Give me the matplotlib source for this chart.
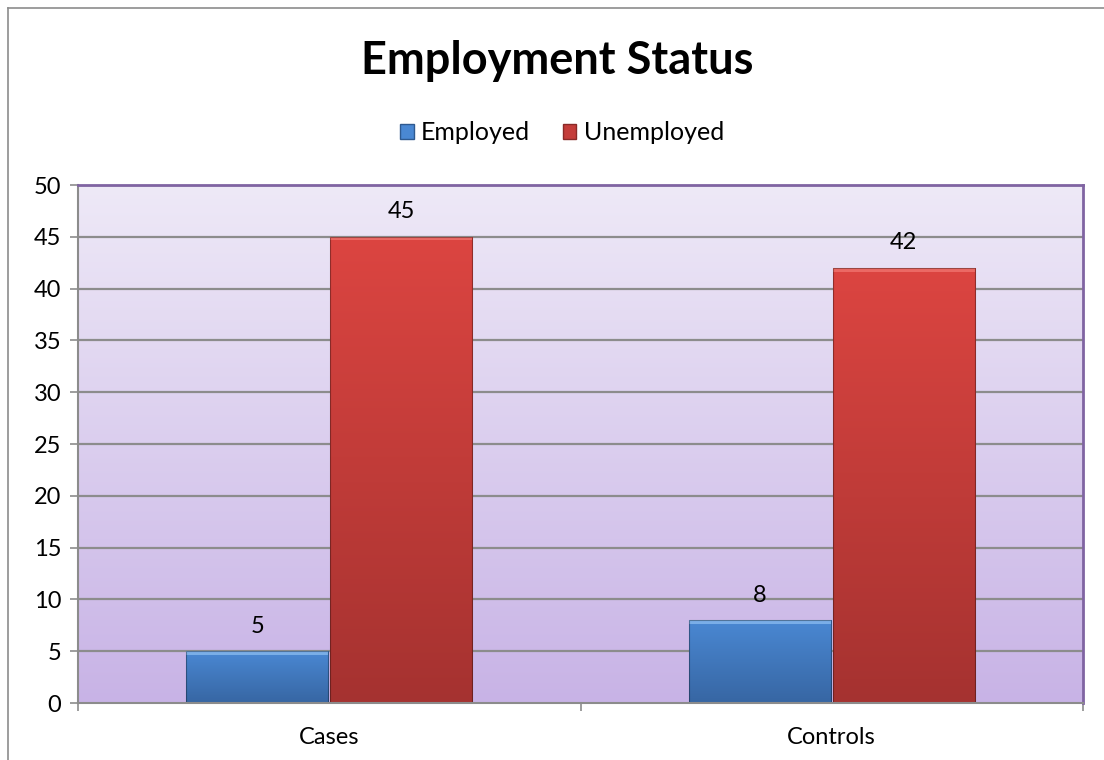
import matplotlib
matplotlib.use("Agg")
import matplotlib.pyplot as plt
import numpy as np
from matplotlib.patches import Rectangle
from matplotlib.lines import Line2D
from matplotlib.colors import LinearSegmentedColormap

categories = ["Cases", "Controls"]
series_names = ["Employed", "Unemployed"]
employed = [5, 8]
unemployed = [45, 42]
yticks = [0, 5, 10, 15, 20, 25, 30, 35, 40, 45, 50]
title = "Employment Status"

plt.rcParams['font.family'] = ['Lato', 'DejaVu Sans']

W, H = 1104, 760
fig = plt.figure(figsize=(W / 100, H / 100), dpi=100)
ax = fig.add_axes([78 / W, 1 - 703 / H, (1083 - 78) / W, (703 - 185) / H])

# background gradient of plot area
bg = LinearSegmentedColormap.from_list("bg", ["#C8B3E6", "#EEE9F7"])
grad = np.linspace(0, 1, 256).reshape(-1, 1)
ax.imshow(grad, cmap=bg, origin="lower", aspect="auto",
          extent=[-0.5, 1.5, 0, 50], zorder=0)

ax.set_xlim(-0.5, 1.5)
ax.set_ylim(0, 50)

for y in yticks[1:]:
    ax.axhline(y, color="#8C8C8C", lw=1.6, zorder=1)

x = np.arange(len(categories))
bw = 0.283
off = bw / 2 + 0.002

cm_blue = LinearSegmentedColormap.from_list("b", ["#3766A3", "#4A88D3"])
cm_red = LinearSegmentedColormap.from_list("r", ["#A53230", "#DC4541"])

def grad_bars(bars, cmap, light):
    for b in bars:
        x0, y0 = b.get_x(), b.get_y()
        w, h = b.get_width(), b.get_height()
        im = ax.imshow(grad, cmap=cmap, origin="lower", aspect="auto",
                       extent=[x0, x0 + w, y0, y0 + h], zorder=3)
        im.set_clip_path(b)
        # bevel highlight on top
        ax.add_patch(Rectangle((x0, y0 + h - 0.35), w, 0.35, facecolor=light,
                               edgecolor="none", alpha=0.7, zorder=4))
        ax.add_patch(Rectangle((x0, y0), w, h, facecolor="none",
                               edgecolor="#00000055", lw=0.8, zorder=5))

b1 = ax.bar(x - off, employed, bw, color="#4A88D3", zorder=2)
b2 = ax.bar(x + off, unemployed, bw, color="#C43D3A", zorder=2)
grad_bars(b1, cm_blue, "#8FC0F2")
grad_bars(b2, cm_red, "#F27A74")

for bars, vals in ((b1, employed), (b2, unemployed)):
    for b, v in zip(bars, vals):
        ax.annotate(str(v), (b.get_x() + b.get_width() / 2, v),
                    xytext=(0, 18), textcoords="offset points",
                    ha="center", va="center", fontsize=17, color="#000000", zorder=6)

ax.set_yticks(yticks)
ax.set_yticklabels([str(t) for t in yticks], fontsize=17)
ax.set_xticks([-0.5, 0.5, 1.5])
ax.set_xticklabels([])
ax.set_xticks(x, minor=True)
ax.set_xticklabels(categories, minor=True, fontsize=17)
ax.tick_params(axis="x", which="minor", length=0, pad=17)
ax.tick_params(axis="x", which="major", length=6, color="#8C8C8C", width=1.2)
ax.tick_params(axis="y", length=6, color="#8C8C8C", width=1.2, pad=6)

for s in ("left", "bottom"):
    ax.spines[s].set_color("#8C8C8C")
    ax.spines[s].set_linewidth(1.5)
for s in ("top", "right"):
    ax.spines[s].set_color("#8064A2")
    ax.spines[s].set_linewidth(2)
for s in ax.spines.values():
    s.set_zorder(7)

fig.text(0.5 + 5 / W, 1 - 61 / H, title, ha="center", va="center",
         fontsize=32.5, fontweight="bold")

handles = [Rectangle((0, 0), 1, 1, facecolor="#4A88D3", edgecolor="#2F5A90"),
           Rectangle((0, 0), 1, 1, facecolor="#C43D3A", edgecolor="#8A2A28")]
fig.legend(handles, series_names, loc="center", bbox_to_anchor=(562 / W, 1 - 133 / H),
           ncol=2, frameon=False, fontsize=18, handlelength=0.55, handleheight=0.55,
           handletextpad=0.3, columnspacing=1.3)

# outer chart border (left and top)
fig.add_artist(Line2D([8 / W, 8 / W], [0, 1 - 8 / H], color="#8C8C8C", lw=1.2,
                      transform=fig.transFigure))
fig.add_artist(Line2D([8 / W, 1], [1 - 8 / H, 1 - 8 / H], color="#8C8C8C", lw=1.2,
                      transform=fig.transFigure))

fig.savefig("out.png", dpi=100)
